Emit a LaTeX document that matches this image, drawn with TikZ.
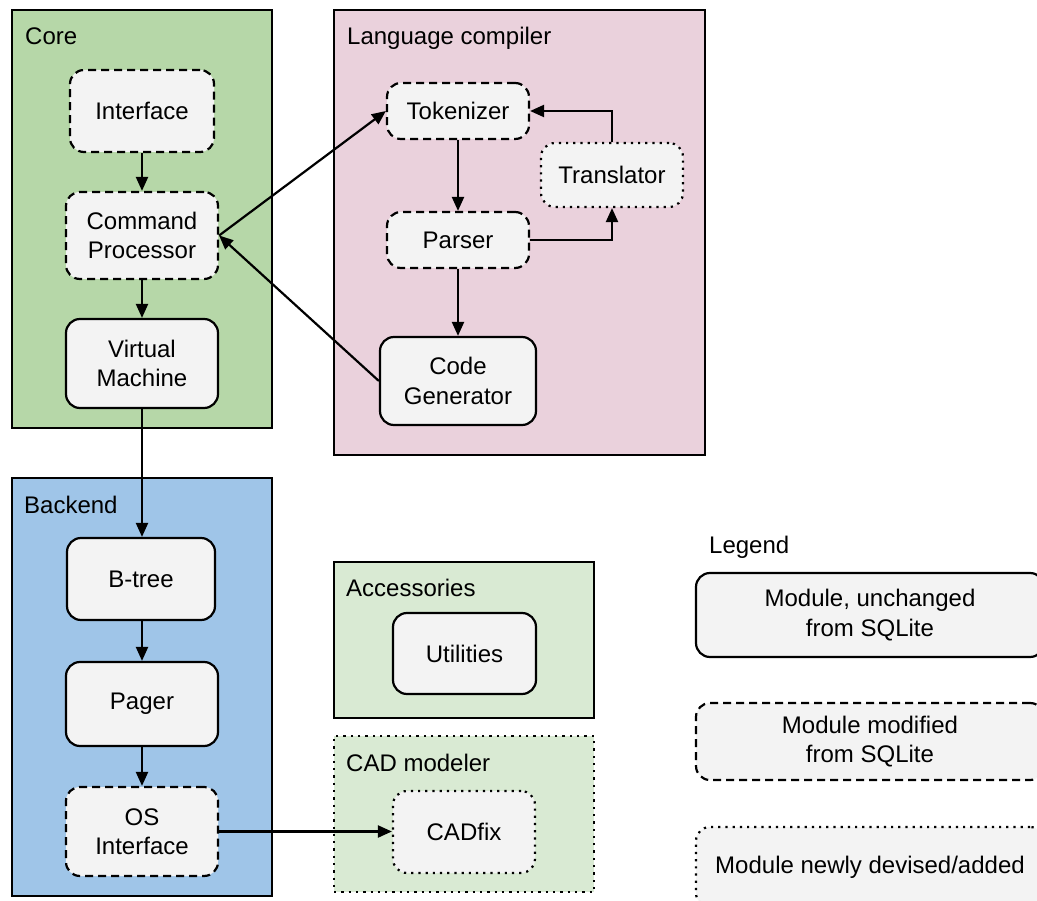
\documentclass[tikz,border=0pt]{standalone}
\usepackage{fontspec}
\setmainfont{Liberation Sans}
\usetikzlibrary{arrows.meta}
\definecolor{coreg}{HTML}{B6D7A8}
\definecolor{langp}{HTML}{EAD1DC}
\definecolor{backb}{HTML}{9FC5E8}
\definecolor{accg}{HTML}{D9EAD3}
\definecolor{modf}{HTML}{F3F3F3}
\tikzset{
 mod/.style={draw, line width=2.2pt, fill=modf, rounded corners=14pt, align=center, font=\fontsize{24}{29.5}\selectfont, inner sep=0pt},
 unch/.style={mod},
 modi/.style={mod, dash pattern=on 8pt off 5pt},
 newm/.style={mod, dash pattern=on 2.2pt off 5pt},
 grp/.style={draw, line width=2.3pt, inner sep=0pt},
 glabel/.style={anchor=base west, font=\fontsize{24}{29}\selectfont, inner sep=0pt},
 arr/.style={line width=2.2pt, -{Triangle[length=14pt,width=12pt]}},
}
\begin{document}
\begin{tikzpicture}[x=1pt,y=-1pt]
\useasboundingbox (0,0) rectangle (1037,901);
\clip (0,0) rectangle (1037,901);
\fill[white] (0,0) rectangle (1037,901);
% groups
\node[grp, fill=coreg, minimum width=260pt, minimum height=418pt] (core) at (142,219) {};
\node[grp, fill=langp, minimum width=371pt, minimum height=445pt] (lang) at (519.5,232.5) {};
\node[grp, fill=backb, minimum width=260pt, minimum height=418pt] (back) at (142,687) {};
\node[grp, fill=accg, minimum width=260pt, minimum height=156pt] (acc) at (464,640) {};
\node[grp, fill=accg, dash pattern=on 2.3pt off 5pt, minimum width=260pt, minimum height=156pt] (cad) at (464,814) {};
\node[glabel] (corel) at (25,45) {Core};
\node[glabel] (langl) at (347,45) {Language compiler};
\node[glabel] (backl) at (24,513) {Backend};
\node[glabel] (accl) at (346,596) {Accessories};
\node[glabel] (cadl) at (346,771) {CAD modeler};
\node[glabel] (legl) at (709,553) {Legend};
% modules
\node[modi, minimum width=144pt, minimum height=82pt] (iface) at (142,111) {Interface};
\node[modi, minimum width=152pt, minimum height=87pt] (cp) at (142,235.5) {Command\\Processor};
\node[unch, minimum width=152pt, minimum height=89pt] (vm) at (142,363.5) {Virtual\\Machine};
\node[modi, minimum width=142pt, minimum height=56pt] (tok) at (458,111) {Tokenizer};
\node[newm, minimum width=142pt, minimum height=64pt] (trans) at (612,175) {Translator};
\node[modi, minimum width=142pt, minimum height=56pt] (parser) at (458,240) {Parser};
\node[unch, minimum width=156pt, minimum height=88pt] (cg) at (458,381) {Code\\Generator};
\node[unch, minimum width=148pt, minimum height=82pt] (btree) at (141,579) {B-tree};
\node[unch, minimum width=152pt, minimum height=84pt] (pager) at (142,704) {Pager};
\node[modi, minimum width=152pt, minimum height=89pt] (osi) at (142,831.5) {OS\\Interface};
\node[unch, minimum width=143pt, minimum height=81pt] (util) at (464.5,653.5) {Utilities};
\node[newm, minimum width=142pt, minimum height=82pt] (cadfix) at (464,832) {CADfix};
% legend
\node[unch, minimum width=348pt, minimum height=84pt] (leg1) at (870,615) {Module, unchanged\\from SQLite};
\node[modi, minimum width=348pt, minimum height=77pt] (leg2) at (870,741.5) {Module modified\\from SQLite};
\node[newm, minimum width=348pt, minimum height=80pt] (leg3) at (870,867) {Module newly devised/added};
% connectors
\draw[arr] (iface.south) -- (cp.north);
\draw[arr] (cp.south) -- (vm.north);
\draw[arr] (vm.south) -- (btree.north -| vm.south);
\draw[arr] (btree.south -| pager.north) -- (pager.north);
\draw[arr] (pager.south) -- (osi.north);
\draw[arr] (osi.east) -- (cadfix.west |- osi.east);
\draw[arr] (cp.east) -- (tok.west);
\draw[arr] (cg.west) -- (cp.east);
\draw[arr] (tok.south) -- (parser.north);
\draw[arr] (parser.south) -- (cg.north);
\draw[arr] (parser.east) -| (trans.south);
\draw[arr] (trans.north) |- (tok.east);
\end{tikzpicture}
\end{document}
